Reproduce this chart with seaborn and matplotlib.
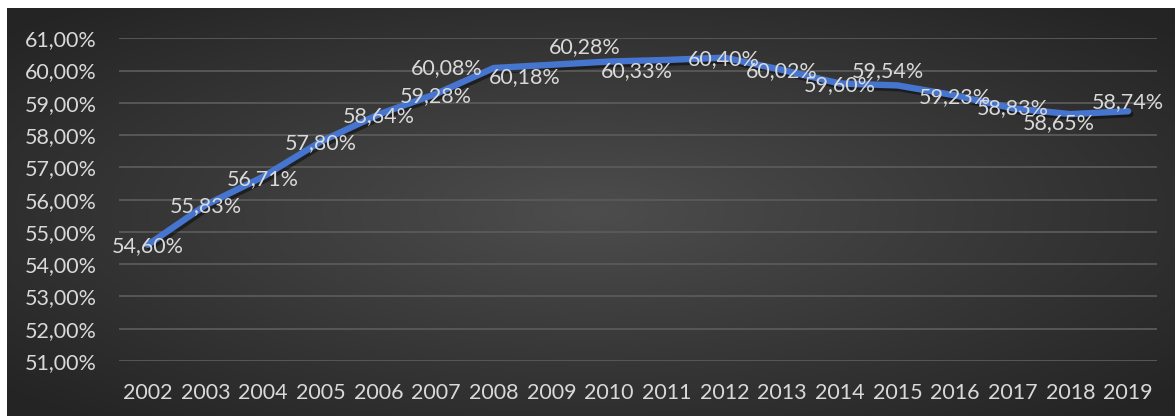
import numpy as np
import pandas as pd
import matplotlib
matplotlib.use("Agg")
import matplotlib.pyplot as plt
import matplotlib.patheffects as pe
import seaborn as sns

# Share values by year (in %)
years = [2002, 2003, 2004, 2005, 2006, 2007, 2008, 2009, 2010,
         2011, 2012, 2013, 2014, 2015, 2016, 2017, 2018, 2019]
share = [54.60, 55.83, 56.71, 57.80, 58.64, 59.28, 60.08, 60.18, 60.28,
         60.33, 60.40, 60.02, 59.60, 59.54, 59.23, 58.83, 58.65, 58.74]
y_ticks = [51, 52, 53, 54, 55, 56, 57, 58, 59, 60, 61]

# Label nudges (pixels) so neighbouring labels don't collide
label_nudge = [(0, -1), (0, -1), (0, -2), (0, -2), (0, -2), (0, -2),
               (-47, 0), (-27, -12), (-24, 14), (-30, -11), (-1, -1), (0, -1),
               (0, -2), (-10, 14), (0, -2), (0, 0), (-12, -9), (0, 9)]

df = pd.DataFrame({"year": years, "share": share})

sns.set_theme(style="white")
plt.rcParams["font.family"] = ["Lato", "DejaVu Sans"]

W, H, DPI = 1175, 416, 100
fig = plt.figure(figsize=(W / DPI, H / DPI), dpi=DPI, facecolor="white")

# Dark radial-gradient chart area
bg = fig.add_axes([7 / W, 0, (W - 7) / W, (H - 8) / H])
gx = np.linspace(-1, 1, 400)
gy = np.linspace(-1, 1, 200)
X, Y = np.meshgrid(gx, gy)
R = np.clip(np.sqrt(X ** 2 + Y ** 2) / 1.35, 0, 1)
inner = np.array([0x4d, 0x4d, 0x4d]) / 255
outer = np.array([0x24, 0x24, 0x24]) / 255
img = inner[None, None, :] * (1 - R[..., None]) + outer[None, None, :] * R[..., None]
bg.imshow(img, aspect="auto", extent=[0, 1, 0, 1], interpolation="bilinear")
bg.set_axis_off()

ax = fig.add_axes([119 / W, 55 / H, (1157 - 119) / W, (361 - 38.3) / H])
ax.patch.set_alpha(0)

sns.lineplot(data=df, x="year", y="share", ax=ax, color="#4675CF",
             linewidth=4.6, solid_joinstyle="round", solid_capstyle="round",
             zorder=3)
ax.lines[0].set_path_effects([
    pe.SimpleLineShadow(offset=(1.5, -2), shadow_color="black", alpha=0.45),
    pe.Normal(),
])

txt_color = "#D9D9D9"
fs = 15.5
for (yr, v), (dx, dy) in zip(zip(years, share), label_nudge):
    ax.annotate(f"{v:.2f}%".replace(".", ","), (yr, v),
                xytext=(dx * 0.72, dy * 0.72), textcoords="offset points",
                ha="center", va="center", fontsize=fs, color=txt_color,
                zorder=4)

ax.set_xlim(years[0] - 0.5, years[-1] + 0.5)
ax.set_ylim(y_ticks[0], y_ticks[-1])
ax.set_yticks(y_ticks)
ax.set_yticklabels([f"{t:.2f}%".replace(".", ",") for t in y_ticks])
ax.set_xticks(years)
ax.set_xticklabels([str(y) for y in years])
ax.tick_params(axis="both", length=0, labelsize=fs, labelcolor=txt_color)
ax.tick_params(axis="y", pad=16)
ax.tick_params(axis="x", pad=16)
ax.grid(axis="y", color="#5a5a5a", linewidth=1.3)
ax.grid(axis="x", visible=False)
ax.set_xlabel("")
ax.set_ylabel("")
for s in ax.spines.values():
    s.set_visible(False)

fig.savefig("out.png", dpi=DPI, facecolor="white")
